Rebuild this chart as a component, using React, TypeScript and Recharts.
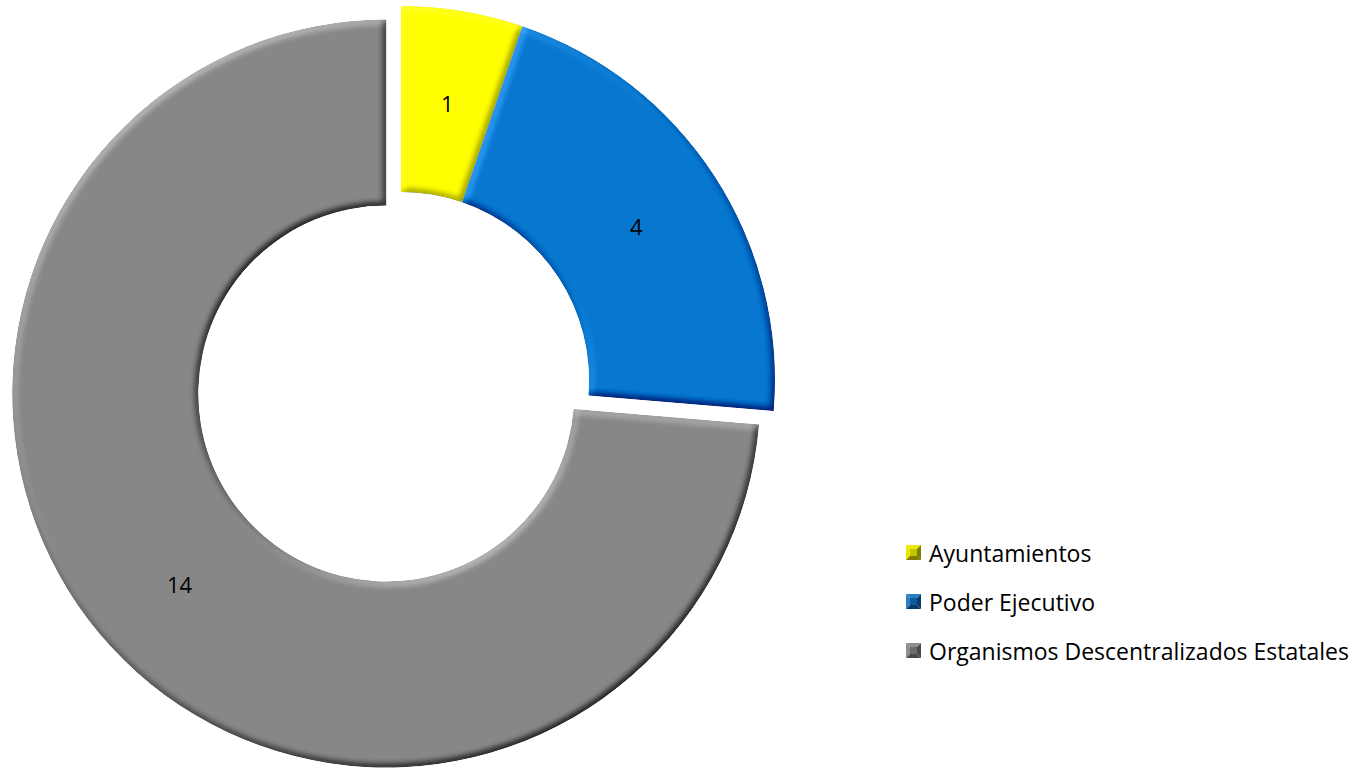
import React from 'react'
import { PieChart, Pie, Cell } from 'recharts'

const categories = ['Ayuntamientos', 'Poder Ejecutivo', 'Organismos Descentralizados Estatales']
const values = [1, 4, 14]
const colors = ['#FFFF00', '#0777D0', '#878787']
// the slice pulled out of the ring
const explodedIndex = 2

const WIDTH = 1361
const HEIGHT = 768
const CX = 401
const CY = 380
const OUTER = 374
const INNER = 188
const EXPLODE = 20
const FONT = '"Open Sans", "Noto Sans", sans-serif'

const data = categories.map((name, i) => ({ name, value: values[i] }))

// mid angle of the exploded slice, clockwise from 12 o'clock
const total = values.reduce((a, b) => a + b, 0)
const before = values.slice(0, explodedIndex).reduce((a, b) => a + b, 0)
const midFrac = (before + values[explodedIndex] / 2) / total
const offX = Math.sin(midFrac * 2 * Math.PI) * EXPLODE
const offY = -Math.cos(midFrac * 2 * Math.PI) * EXPLODE

const RADIAN = Math.PI / 180

const makeLabel = (visible: (i: number) => boolean) => (props: any) => {
  const { cx, cy, midAngle, innerRadius, outerRadius, index, value } = props
  if (!visible(index)) return null
  const r = (innerRadius + outerRadius) / 2
  const x = cx + r * Math.cos(-midAngle * RADIAN)
  const y = cy + r * Math.sin(-midAngle * RADIAN)
  return (
    <text
      x={x}
      y={y}
      fill="#000"
      fontSize={22}
      fontFamily={FONT}
      textAnchor="middle"
      dominantBaseline="central"
    >
      {value}
    </text>
  )
}

const iconShades = [
  { light: '#E8E800', base: '#C4C400', dark: '#7E7E00' },
  { light: '#2A7FC4', base: '#0F5A9C', dark: '#083B69' },
  { light: '#8E8E8E', base: '#6B6B6B', dark: '#4A4A4A' },
]

const LegendIcon = ({ i }: { i: number }) => {
  const s = iconShades[i]
  return (
    <svg width={15} height={15} style={{ marginRight: 8, flex: 'none' }}>
      <polygon points="0,0 15,0 11,4 4,4" fill={s.light} />
      <polygon points="0,0 4,4 4,11 0,15" fill={s.light} />
      <polygon points="15,0 15,15 11,11 11,4" fill={s.dark} />
      <polygon points="0,15 4,11 11,11 15,15" fill={s.dark} />
      <rect x={4} y={4} width={7} height={7} fill={s.base} />
    </svg>
  )
}

export default function App() {
  return (
    <div style={{ position: 'absolute', left: 0, top: 0, width: WIDTH, height: HEIGHT, background: '#fff' }}>
      <svg width={0} height={0} style={{ position: 'absolute' }}>
        <defs>
          <filter id="bevel" x="-5%" y="-5%" width="110%" height="110%" colorInterpolationFilters="sRGB">
            <feGaussianBlur in="SourceAlpha" stdDeviation="3.5" result="blur" />
            <feDiffuseLighting in="blur" surfaceScale="4" diffuseConstant="1" lightingColor="#ffffff" result="light">
              <feDistantLight azimuth="235" elevation="45" />
            </feDiffuseLighting>
            <feComposite in="SourceGraphic" in2="light" operator="arithmetic" k1="0" k2="1" k3="0.55" k4="-0.389" result="lit" />
            <feComposite in="lit" in2="SourceAlpha" operator="in" />
          </filter>
        </defs>
      </svg>
      <PieChart width={WIDTH} height={HEIGHT} margin={{ top: 0, right: 0, bottom: 0, left: 0 }}>
        <Pie
          data={data}
          dataKey="value"
          nameKey="name"
          cx={CX}
          cy={CY}
          innerRadius={INNER}
          outerRadius={OUTER}
          startAngle={90}
          endAngle={-270}
          stroke="none"
          labelLine={false}
          label={makeLabel((i) => i !== explodedIndex)}
          isAnimationActive={false}
        >
          {data.map((d, i) => (
            <Cell
              key={d.name}
              fill={i === explodedIndex ? 'transparent' : colors[i]}
              filter={i === explodedIndex ? undefined : 'url(#bevel)'}
            />
          ))}
        </Pie>
        <Pie
          data={data}
          dataKey="value"
          nameKey="name"
          cx={CX + offX}
          cy={CY + offY}
          innerRadius={INNER}
          outerRadius={OUTER}
          startAngle={90}
          endAngle={-270}
          stroke="none"
          labelLine={false}
          label={makeLabel((i) => i === explodedIndex)}
          isAnimationActive={false}
        >
          {data.map((d, i) => (
            <Cell
              key={d.name}
              fill={i === explodedIndex ? colors[i] : 'transparent'}
              filter={i === explodedIndex ? 'url(#bevel)' : undefined}
            />
          ))}
        </Pie>
      </PieChart>
      <div style={{ position: 'absolute', left: 906, top: 528, fontFamily: FONT, fontSize: 23, color: '#000' }}>
        {categories.map((c, i) => (
          <div key={c} style={{ display: 'flex', alignItems: 'center', height: 49, whiteSpace: 'nowrap' }}>
            <LegendIcon i={i} />
            <span>{c}</span>
          </div>
        ))}
      </div>
    </div>
  )
}
